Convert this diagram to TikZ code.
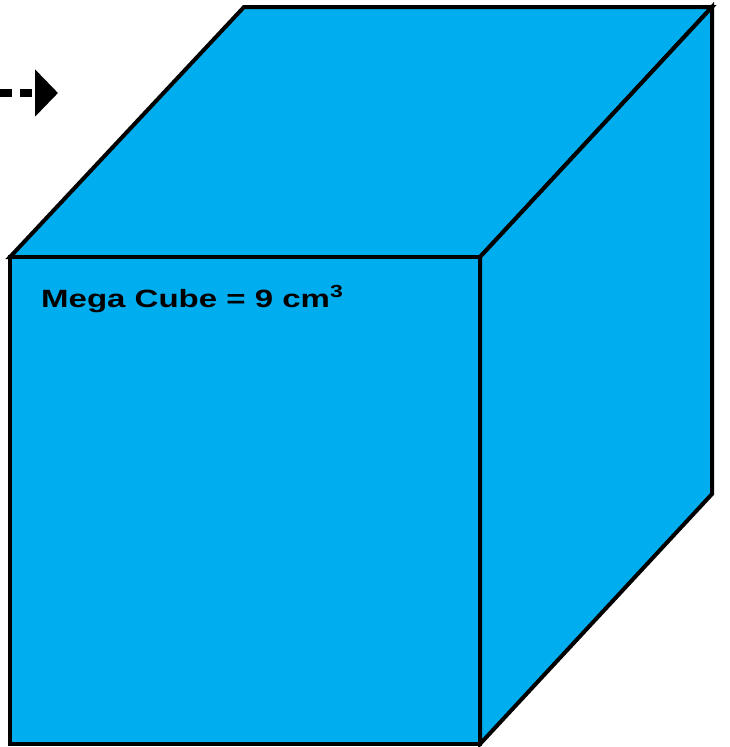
\documentclass[tikz,border=0pt]{standalone}
\usepackage{fontspec}
\usepackage{graphicx}
\setmainfont{Liberation Sans}
\usetikzlibrary{arrows.meta}
\definecolor{cubeblue}{RGB}{0,174,239}
\tikzset{
  face/.style={fill=cubeblue, draw=black, line width=4pt, line join=miter},
  pointer/.style={line width=8pt, dash pattern=on 12pt off 8pt, -{Triangle[length=23pt,width=46pt]}}
}
\begin{document}
\begin{tikzpicture}[x=1pt,y=-1pt]
\useasboundingbox (0,0) rectangle (729,747);
% top face
\draw[face] (10,257) -- (244,7) -- (712,7) -- (480,257) -- cycle;
% right face
\draw[face] (480,257) -- (712,7) -- (712,494) -- (480,744) -- cycle;
% front face
\draw[face] (10,257) rectangle (480,744);
% label
\node[anchor=base west, inner sep=0pt, font=\fontsize{25}{30}\selectfont\bfseries] (label) at (41,307) {\scalebox{1.32}[1]{Mega Cube = 9 cm\textsuperscript{3}}};
% arrow
\coordinate (arrowstart) at (0,93);
\coordinate (arrowend) at (58,93);
\draw[pointer] (arrowstart) -- (arrowend);
\end{tikzpicture}
\end{document}
